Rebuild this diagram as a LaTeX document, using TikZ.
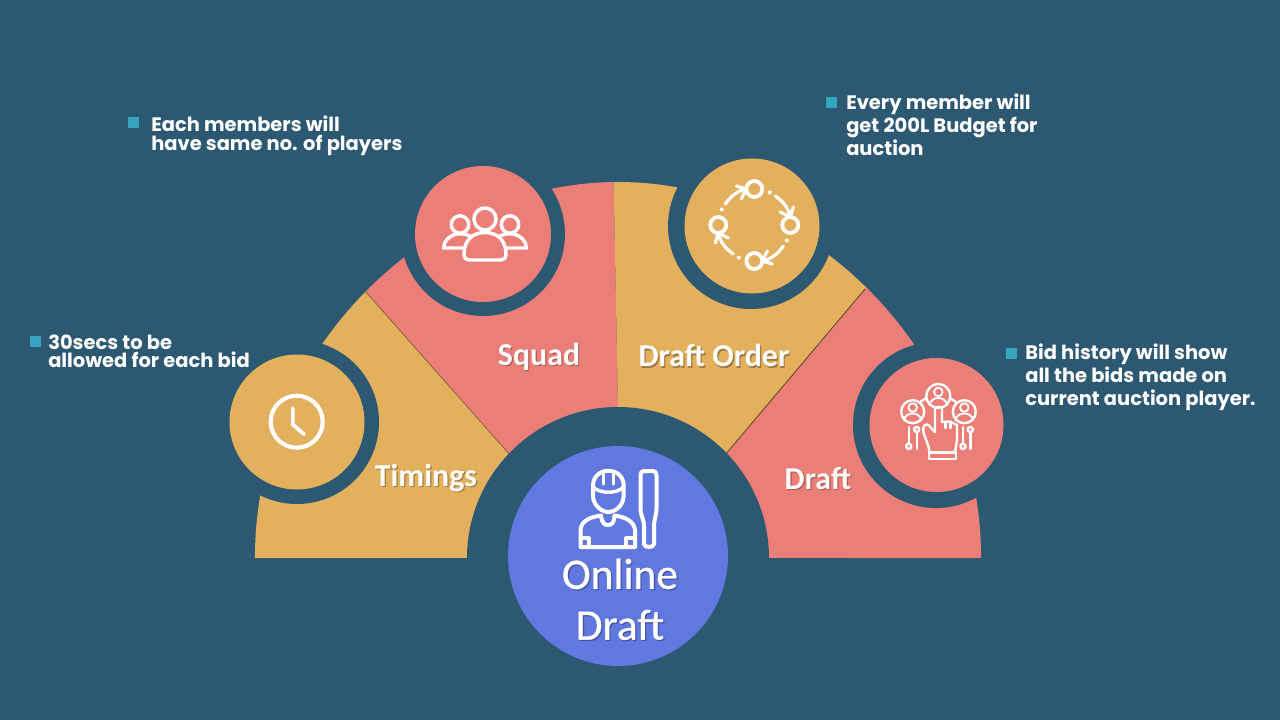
\documentclass[tikz,border=0pt]{standalone}
\usepackage{fontspec}
\newfontfamily\lab{Carlito}
\newfontfamily\labbig{Carlito}[FakeBold=0.7]
\newfontfamily\bul{Poppins}
\definecolor{bg}{HTML}{2C5871}
\definecolor{yel}{HTML}{E3B05E}
\definecolor{pnk}{HTML}{EB7E76}
\definecolor{blu}{HTML}{6078DF}
\definecolor{teal2}{HTML}{35A4BF}
\newcommand{\shtext}[2]{\leavevmode\rlap{\kern0.9pt\raisebox{-0.9pt}{\color{#1!70!black}#2}}{\color{white}#2}}
\tikzset{
  disc/.style={circle,inner sep=0pt,minimum size=#1*0.75pt},
  sq/.style={fill=teal2,inner sep=0pt,minimum size=8.2pt,anchor=north west},
  note/.style={text=white,inner sep=0pt,anchor=west,align=left,font=\bul\bfseries\fontsize{14.6}{#1}\selectfont},
  lbl/.style={inner sep=0pt,font=\lab\bfseries\fontsize{23.9}{28}\selectfont},
  lblbig/.style={inner sep=0pt,font=\labbig\fontsize{32.6}{38}\selectfont},
  ico/.style={draw=white,line width=2.6pt,line cap=round,line join=round},
  icothin/.style={draw=white,line width=1.8pt,line cap=round,line join=round},
}
\begin{document}
\begin{tikzpicture}[x=0.75pt,y=-0.75pt]
\useasboundingbox (0,0) rectangle (1280,720);
\fill[bg] (0,0) rectangle (1280,720);
% fan
\begin{scope}
\clip plot[domain=180:0,samples=121] ({618+(363+13*exp(-((\x-90)/40)^2))*cos(\x)},{558-(363+13*exp(-((\x-90)/40)^2))*sin(\x)}) -- cycle;
\fill[yel] (510,455) -- (340,263) -- (150,263) -- (150,558) -- (510,558) -- cycle;
\fill[pnk] (510,455) -- (340,263) -- (340,100) -- (612,100) -- (618,408) -- (618,500) -- (510,500) -- cycle;
\fill[yel] (612,100) -- (618,408) -- (618,500) -- (725,455) -- (888,262) -- (888,100) -- cycle;
\fill[pnk] (725,455) -- (888,262) -- (1100,262) -- (1100,558) -- (725,558) -- cycle;
\draw[black!45!yel,line width=0.5pt] (510,455) -- (365,291);
\draw[black!60!yel,line width=0.6pt] (725,455) -- (865,289);
\end{scope}
% rings
\fill[bg] (618,558) circle[radius=151];
\fill[bg] (297,422) circle[radius=82];
\fill[bg] (483,234) circle[radius=82];
\fill[bg] (751,226) circle[radius=83];
\fill[bg] (936,425) circle[radius=83];
\fill[bg] (400,558) rectangle (850,720);
% discs
\node[disc=220,fill=blu] (hub) at (618,556) {};
\node[disc=135,fill=yel] (timing) at (297,422) {};
\node[disc=136,fill=pnk] (squad) at (483,234) {};
\node[disc=135,fill=yel] (order) at (752,226) {};
\node[disc=134,fill=pnk] (draft) at (936.5,425) {};
% clock
\draw[ico,line width=3.1pt] (296.7,421.7) circle[radius=26];
\draw[ico,line width=2.8pt] (292.7,408.3) -- (292.7,424.3) -- (304,434.3);
% people
\draw[ico] (485,219) circle[radius=11];
\draw[ico] (460,224.5) circle[radius=8.7];
\draw[ico] (510,224.5) circle[radius=8.7];
\draw[ico] (464,254) .. controls (464,240) and (473,232.5) .. (485,232.5) .. controls (497,232.5) and (506,240) .. (506,254) .. controls (506,258) and (504,260) .. (501,260) -- (469,260) .. controls (466,260) and (464,258) .. (464,254) -- cycle;
\draw[ico] (470,236) .. controls (465,233.5) and (460,233.5) .. (457,234) .. controls (449,235.5) and (444,241) .. (443.5,248) -- (464,248);
\draw[ico] (500,236) .. controls (505,233.5) and (510,233.5) .. (513,234) .. controls (521,235.5) and (526,241) .. (526.5,248) -- (506,248);
% cycle
\begin{scope}[shift={(754.3,225)}]
\foreach \r in {0,-90,-180,-270}{
 \begin{scope}[rotate=\r]
  \draw[ico,line width=2.8pt] (0,-36) circle[radius=8];
  \draw[ico,line width=2.4pt] (-29,-21) .. controls (-24,-28) and (-18,-34) .. (-8,-36);
  \draw[ico,line width=2.4pt] (-18,-39) -- (-8,-36) -- (-13,-26);
  \fill[white] (15.5,-32.5) circle[radius=2];
 \end{scope}}
\end{scope}
% bid hand
\draw[icothin] (938.3,396) circle[radius=12];
\draw[icothin] (912.7,411.7) circle[radius=11.5];
\draw[icothin] (964.3,411.7) circle[radius=11.5];
\draw[icothin,line width=1.4pt] (938.3,392) circle[radius=4.3];
\draw[icothin,line width=1.4pt] (912.7,407.5) circle[radius=4.3];
\draw[icothin,line width=1.4pt] (964.3,407.5) circle[radius=4.3];
\draw[icothin,line width=1.4pt] (929.5,405) .. controls (930,400) and (935,398) .. (938.3,398) .. controls (942,398) and (946.5,400) .. (947,405);
\draw[icothin,line width=1.4pt] (904,420) .. controls (905,415) and (909,413.5) .. (912.7,413.5) .. controls (916,413.5) and (920,415) .. (921,420);
\draw[icothin,line width=1.4pt] (955.5,420) .. controls (956.5,415) and (960.5,413.5) .. (964.3,413.5) .. controls (968,413.5) and (972,415) .. (973,420);
\draw[icothin] (920,402) -- (926.5,398);
\draw[icothin] (950,398) -- (956,402);
\draw[icothin] (929.5,452) .. controls (928,440) and (922,435) .. (923.5,427) .. controls (925,423) and (929,424) .. (931,428) -- (935,432) -- (935,409) .. controls (935,406) and (942,406) .. (942,409) -- (942,422) -- (950,421.5) -- (957,425) -- (957,440) -- (955,452);
\draw[icothin] (945.5,422) -- (945.5,428);
\draw[icothin] (950.5,422) -- (950.5,428);
\draw[icothin] (929,452.5) rectangle (956,459);
\draw[icothin] (908.7,427) -- (908.7,443);
\draw[icothin] (908.7,446.3) circle[radius=2.6];
\draw[icothin] (916.7,429.5) circle[radius=2.6];
\draw[icothin] (916.7,433) -- (916.7,449);
\draw[icothin] (963,427) -- (963,443);
\draw[icothin] (963,446.3) circle[radius=2.6];
\draw[icothin] (970.3,429.5) circle[radius=2.6];
\draw[icothin] (970.3,433) -- (970.3,449);
% batsman
\draw[ico,line width=3pt] (593,488) .. controls (591,465) and (626,465) .. (623.5,488) -- (623.5,497) .. controls (623,506) and (615,512) .. (608.3,512) .. controls (602,512) and (594,506) .. (593,497) -- cycle;
\draw[ico,line width=2.6pt] (593,487) .. controls (600,494) and (617,494) .. (623.5,487);
\draw[ico,line width=2.4pt] (603.5,474) -- (603.5,484);
\draw[ico,line width=2.4pt] (613.5,474) -- (613.5,484);
\draw[ico,line width=3pt] (580.5,547) -- (580.5,530) .. controls (581,521) and (590,517) .. (601,515.5) .. controls (602,524) and (605,525) .. (608,525) .. controls (612,525) and (614,523) .. (614.5,515.5) .. controls (625,517) and (634,521) .. (635,530) -- (635,547) -- cycle;
\draw[ico,line width=2.4pt] (581,538) -- (589,538) -- (589,546);
\draw[ico,line width=2.4pt] (634,538) -- (626,538) -- (626,546);
\draw[ico,line width=3pt] (640.5,475) .. controls (640.5,472) and (642,471) .. (644,471) -- (653,471) .. controls (655,471) and (656.5,472) .. (656.5,475) -- (656.5,508) .. controls (656.5,516) and (654,520) .. (654,525) -- (654,544) .. controls (654,548) and (644,548) .. (644,544) -- (644,525) .. controls (644,520) and (640.5,516) .. (640.5,508) -- cycle;
% labels
\node[lbl] (l1) at (426,478.5) {\shtext{yel}{Timings}};
\node[lbl] (l2) at (539,357.5) {\shtext{pnk}{Squad}};
\node[lbl] (l3) at (714,356.5) {\shtext{yel}{Draft Order}};
\node[lbl] (l4) at (818,479) {\shtext{pnk}{Draft}};
\node[lblbig] (l5) at (620,574.5) {\shtext{blu}{Online}};
\node[lblbig] (l6) at (620,625.5) {\shtext{blu}{Draft}};
% notes
\node[sq] (b1) at (30,336) {};
\node[note=13.5pt] (n1) at (48,351) {30secs to be\\allowed for each bid};
\node[sq] (b2) at (128,117) {};
\node[note=14pt] (n2) at (151,135.5) {Each members will\\have same no. of players};
\node[sq] (b3) at (826,97) {};
\node[note=17.2pt] (n3) at (846,125) {Every member will\\get 200L Budget for\\auction};
\node[sq] (b4) at (1006,348) {};
\node[note=17.2pt] (n4) at (1025,377.5) {Bid history will show\\all the bids made on\\current auction player.};
\end{tikzpicture}
\end{document}
